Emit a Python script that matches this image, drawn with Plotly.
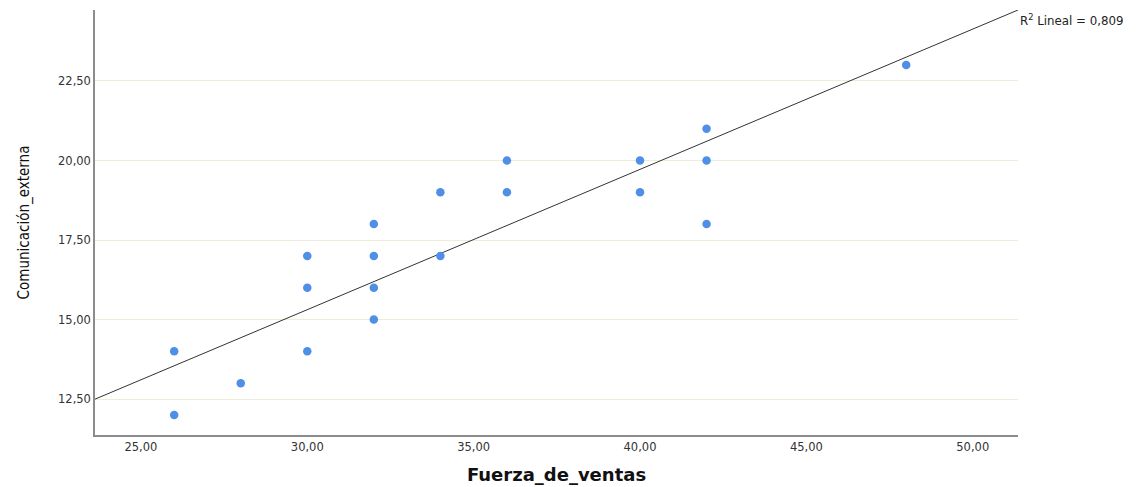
import plotly.graph_objects as go

fuerza_de_ventas = [26, 26, 28, 30, 30, 30, 32, 32, 32, 32, 34, 34, 36, 36, 40, 40, 42, 42, 42, 48]
comunicacion_externa = [14, 12, 13, 17, 16, 14, 18, 17, 16, 15, 19, 17, 20, 19, 20, 19, 21, 20, 18, 23]
fit_intercept = 2.08
fit_slope = 0.441
r2_label = "R<sup>2</sup> Lineal = 0,809"
x_range = [23.62, 51.36]
y_range = [11.37, 24.73]
x_ticks = [25, 30, 35, 40, 45, 50]
y_ticks = [12.5, 15, 17.5, 20, 22.5]

fig = go.Figure()
fig.add_trace(go.Scatter(
    x=x_range, y=[fit_intercept + fit_slope * v for v in x_range],
    mode="lines", line=dict(color="#333333", width=1), hoverinfo="skip", showlegend=False))
fig.add_trace(go.Scatter(
    x=fuerza_de_ventas, y=comunicacion_externa, mode="markers",
    marker=dict(color="#4f8fe6", size=8.5, line=dict(width=0)), showlegend=False))

fig.add_annotation(x=1.0, y=1.0, xref="paper", yref="paper",
                   text=r2_label, showarrow=False, xanchor="left", yanchor="top",
                   font=dict(family="DejaVu Sans, Arial", size=11.8, color="#222"))

fig.update_layout(
    width=1129, height=479,
    margin=dict(l=87, r=119, t=2, b=52),
    paper_bgcolor="white", plot_bgcolor="white",
    separators=",.",
    font=dict(family="DejaVu Sans, Arial", size=11, color="#333"),
    xaxis=dict(range=x_range, tickvals=x_ticks, tickformat=".2f", showgrid=False, zeroline=False,
               showline=True, linecolor="#8c8c8c", linewidth=1.5, ticks="",
               tickfont=dict(family="DejaVu Sans, Arial", size=11.5, color="#333"),
               title=dict(text="Fuerza_de_ventas", standoff=16,
                          font=dict(family="DejaVu Sans, Arial", size=18, color="#111", weight="bold"))),
    yaxis=dict(range=y_range, tickvals=y_ticks, tickformat=".2f", showgrid=True, gridcolor="#efecdc",
               gridwidth=1, zeroline=False, showline=True, linecolor="#8c8c8c", linewidth=1.5, ticks="",
               tickfont=dict(family="DejaVu Sans, Arial", size=11.5, color="#333"),
               title=dict(text="Comunicación_externa", standoff=25,
                          font=dict(family="DejaVu Sans Condensed, Liberation Sans Narrow, Liberation Sans, Arial",
                                    size=15, color="#111"))),
)
fig.write_html("out.html")
